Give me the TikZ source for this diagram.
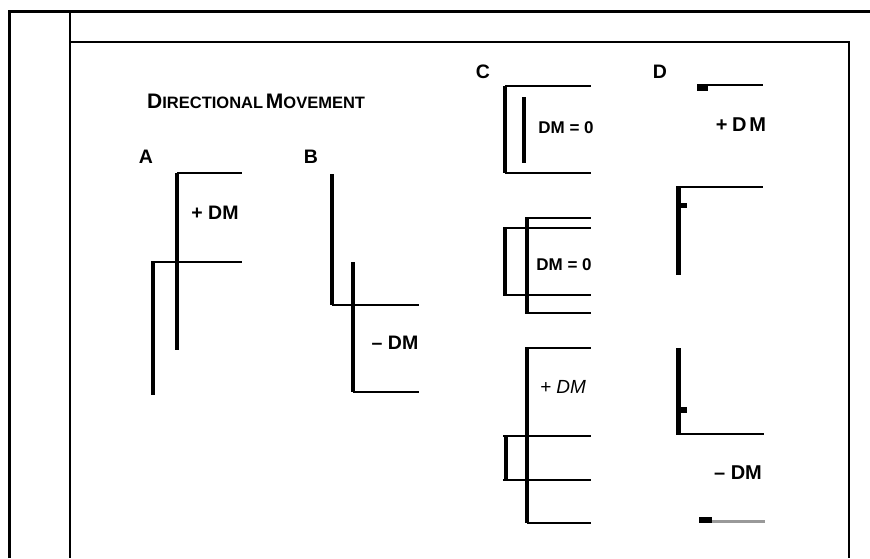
\documentclass[tikz,border=0pt]{standalone}
\usepackage{fontspec}
\setmainfont{Liberation Sans}
\begin{document}
\begin{tikzpicture}[x=1pt,y=-1pt,
  barline/.style={line width=4pt},
  hline/.style={line width=1.4pt},
  frameline/.style={line width=3pt},
  innerframe/.style={line width=1.5pt},
  lbl/.style={font=\fontsize{19.5}{21}\selectfont\bfseries, inner sep=0pt},
  dm/.style={font=\fontsize{19.5}{21}\selectfont\bfseries, inner sep=0pt},
  dmb/.style={font=\fontsize{20}{22}\selectfont\bfseries, inner sep=0pt},
]
\useasboundingbox (0,0) rectangle (870,558);
% frame
\draw[frameline] (9.5,558) -- (9.5,11) -- (870,11);
\draw[innerframe] (70,11) -- (70,558);
\draw[innerframe] (70,42) -- (849,42) -- (849,558);
% title
\node[anchor=west, inner sep=0pt] (title) at (147,101)
  {\bfseries{\fontsize{21}{23}\selectfont D}{\fontsize{16.5}{18}\selectfont IRECTIONAL} {\fontsize{21}{23}\selectfont M}{\fontsize{16.5}{18}\selectfont OVEMENT}};
% A
\node[lbl] (la) at (146,157) {A};
\draw[hline] (177,173) -- (242,173);
\draw[barline] (177,173) -- (177,350);
\draw[hline] (151,262) -- (242,262);
\draw[barline] (153,262) -- (153,395);
\node[dm] (dma) at (215,213) {+ DM};
% B
\node[lbl] (lb) at (311,157) {B};
\draw[barline] (332,174) -- (332,305);
\draw[hline] (332,305) -- (419,305);
\draw[barline] (353,262) -- (353,392);
\draw[hline] (353,392) -- (419,392);
\node[dm] (dmbn) at (395,343) {– DM};
% C
\node[lbl] (lc) at (483,72) {C};
\draw[barline] (505,86) -- (505,173);
\draw[hline] (505,86) -- (591,86);
\draw[hline] (505,173) -- (591,173);
\draw[barline] (524,97) -- (524,163);
\node[dm, font=\fontsize{17}{19}\selectfont\bfseries] (dmc1) at (566,128) {DM = 0};
% C box 2
\draw[hline] (525,218) -- (591,218);
\draw[hline] (503,228) -- (591,228);
\draw[hline] (503,295) -- (591,295);
\draw[hline] (525,313) -- (591,313);
\draw[barline] (527,217) -- (527,313);
\draw[barline] (505,228) -- (505,295);
\node[dm, font=\fontsize{17}{19}\selectfont\bfseries] (dmc2) at (564,265) {DM = 0};
% C box 3
\draw[hline] (527,348) -- (591,348);
\draw[hline] (503,436) -- (591,436);
\draw[hline] (503,480) -- (591,480);
\draw[hline] (527,523) -- (591,523);
\draw[barline] (527,347) -- (527,523);
\draw[barline] (506,436) -- (506,480);
\node[dm, font=\fontsize{19}{21}\selectfont\itshape] (dmc3) at (563,387) {+ DM};
% D
\node[lbl] (ld) at (660,72) {D};
\draw[hline] (697,85) -- (763,85);
\fill (697,84.5) rectangle (708,90.5);
\node[dmb] (dmd1) at (741,125) {+\hspace{4.5pt}D\hspace{3pt}M};
\draw[hline] (676,187) -- (763,187);
\fill (676,186.3) rectangle (681,275);
\fill (681,203) rectangle (687,208);
\fill (676,348) rectangle (681,435);
\fill (681,407) rectangle (687,413);
\draw[line width=2pt] (676,434) -- (764,434);
\node[dmb] (dmd2) at (738,473) {– DM};
\fill (699,517) rectangle (712,523);
\draw[line width=2.5pt, gray!80] (712,521.5) -- (765,521.5);
\end{tikzpicture}
\end{document}
